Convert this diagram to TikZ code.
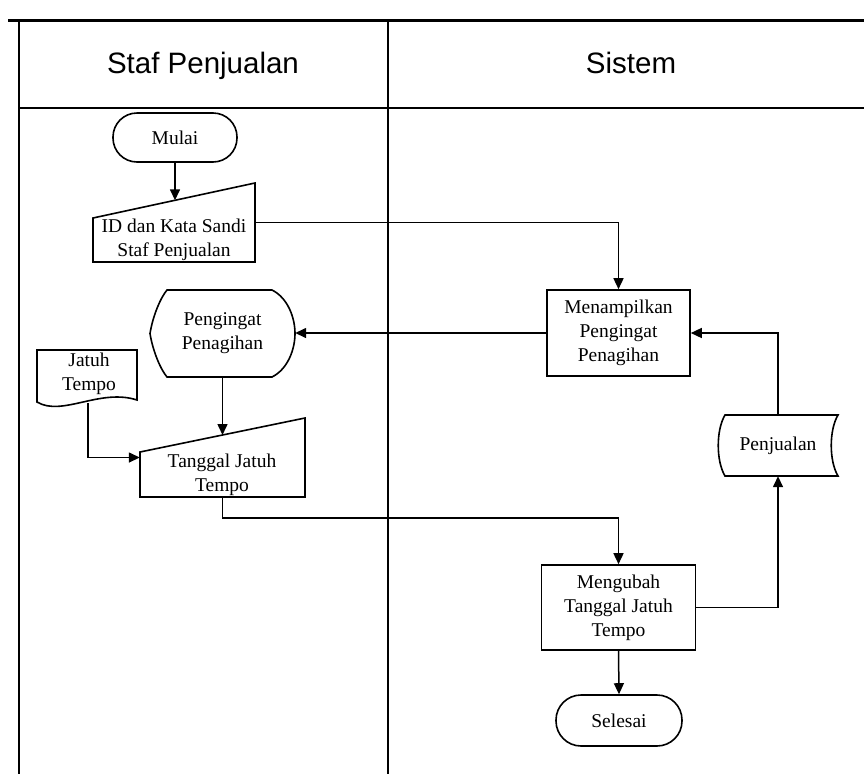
\documentclass[tikz,border=0pt]{standalone}
\usepackage{fontspec}
\setmainfont{Liberation Serif}
\newfontfamily\hdrfont{Liberation Sans}
\usetikzlibrary{arrows.meta,calc}
\begin{document}
\begin{tikzpicture}[x=1pt,y=-1pt,
  lbl/.style={font=\fontsize{19.5}{24}\selectfont, align=center, inner sep=0pt},
  shp/.style={draw, line width=1.6pt},
  proc/.style={shp, lbl},
  term/.style={shp, lbl, rounded corners=24pt},
  frame/.style={line width=1.5pt},
  conn/.style={line width=1.5pt},
  arr/.style={conn, -{Triangle[width=10pt,length=11pt]}},
  hdr/.style={font=\hdrfont\fontsize{29.5}{34}\selectfont, anchor=base, inner sep=0pt}
]
\useasboundingbox (0,0) rectangle (864,774);
\fill[white] (0,0) rectangle (864,774);

% swimlane frame
\draw[line width=3pt] (8,20) -- (864,20);
\draw[frame] (19,20) -- (19,774);
\draw[frame] (388,20) -- (388,774);
\draw[frame] (19,108) -- (864,108);
\node[hdr] (h1) at (203,73) {Staf Penjualan};
\node[hdr] (h2) at (631,73) {Sistem};

% Mulai
\node[term, minimum width=124pt, minimum height=49pt] (mulai) at (175,137.5) {Mulai};

% ID dan Kata Sandi (manual input)
\node[inner sep=0pt, minimum width=162pt, minimum height=79pt] (id) at (174,222.5) {};
\draw[shp] (93,262) -- (93,218) -- (255,183) -- (255,262) -- cycle;
\node[lbl] (idt) at (174,240) {ID dan Kata Sandi\\Staf Penjualan};
\coordinate (idtop) at (175,200.3);

% Pengingat Penagihan (display)
\node[lbl, minimum width=145pt, minimum height=87pt] (peng) at (222.5,333.5) {Pengingat\\Penagihan};
\draw[shp] (167,290) -- (272,290)
  .. controls (288,298) and (295,318) .. (295,333.5)
  .. controls (295,349) and (288,369) .. (272,377)
  -- (167,377)
  .. controls (161,370) and (153,352) .. (150,333.5)
  .. controls (153,315) and (161,297) .. (167,290) -- cycle;

% Jatuh Tempo (document)
\node[inner sep=0pt, minimum width=100pt, minimum height=60pt] (jt) at (87,380) {};
\draw[shp] (37,402) -- (37,350) -- (137,350) -- (137,400)
  .. controls (100,388) and (62,417) .. (37,402) -- cycle;
\node[lbl] (jtt) at (89,374) {Jatuh\\Tempo};
\coordinate (jtb) at (88,403);

% Tanggal Jatuh Tempo (manual input)
\node[inner sep=0pt, minimum width=165pt, minimum height=79pt] (tgl) at (222.5,457.5) {};
\draw[shp] (140,497) -- (140,452) -- (305,418) -- (305,497) -- cycle;
\node[lbl] (tglt) at (222,475) {Tanggal Jatuh\\Tempo};
\coordinate (tgltop) at (222.5,435);

% Sistem lane
\node[proc, minimum width=143pt, minimum height=86pt] (tampil) at (618.5,333) {Menampilkan\\Pengingat\\Penagihan};
\node[lbl, minimum width=120pt, minimum height=61pt] (pj) at (778,445.5) {Penjualan};
\draw[shp] (725,415) -- (838,415)
  .. controls (829,430) and (829,461) .. (838,476)
  -- (725,476)
  .. controls (716,461) and (716,430) .. (725,415) -- cycle;
\node[proc, minimum width=154pt, minimum height=85pt] (ubah) at (618.5,607.5) {Mengubah\\Tanggal Jatuh\\Tempo};
\node[term, minimum width=126pt, minimum height=51pt, rounded corners=25pt] (selesai) at (619,720.5) {Selesai};

% connectors
\draw[arr] (mulai.south) -- (idtop);
\draw[arr] (id.east) -| (tampil.north);
\draw[arr] (tampil.west) -- (tampil.west -| peng.east);
\draw[arr] (peng.south) -- (tgltop);
\draw[arr] (jtb) |- (tgl.west);
\draw[arr] (tgl.south) -- ++(0,21) -| (ubah.north);
\draw[arr] (ubah.east) -| (pj.south);
\draw[arr] (pj.north) |- (tampil.east);
\draw[arr] (ubah.south) -- (selesai.north);
\end{tikzpicture}
\end{document}
